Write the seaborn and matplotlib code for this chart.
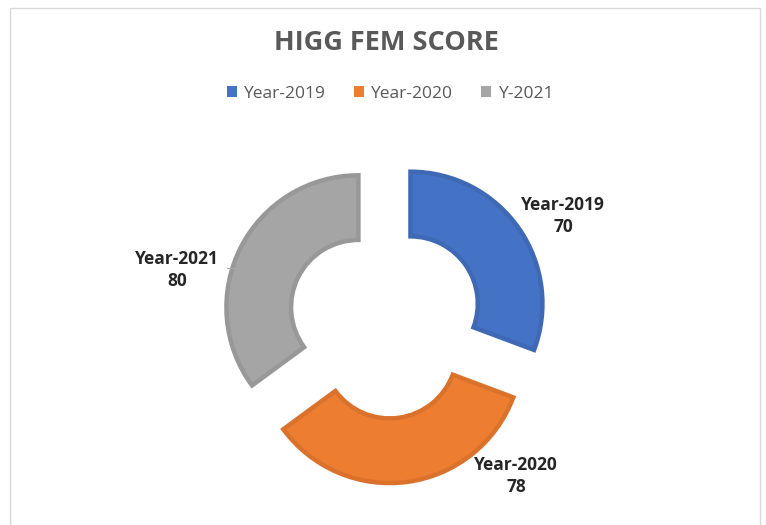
import matplotlib
matplotlib.use("Agg")
import matplotlib.pyplot as plt
import seaborn as sns
from matplotlib.patches import Rectangle

# data
years = ["Year-2019", "Year-2020", "Year-2021"]
legend_names = ["Year-2019", "Year-2020", "Y-2021"]
scores = [70, 78, 80]
fills = ["#4472C4", "#ED7D31", "#A5A5A5"]
edges = ["#3F69B5", "#DA722C", "#989898"]

sns.set_theme(style="white")
plt.rcParams["font.family"] = ["Open Sans", "DejaVu Sans"]

W, H = 766, 525
fig = plt.figure(figsize=(W / 100, H / 100), dpi=100)

# pie axes: 1 data unit = R pixels, centered at (cx, cy) pixels from top-left
R, cx, cy = 132.0, 385.5, 321.0
ax = fig.add_axes([0, 0, 1, 1])

wedges, _ = ax.pie(
    scores,
    colors=fills,
    startangle=90,
    counterclock=False,
    explode=[0.23] * len(scores),
    wedgeprops=dict(width=0.49, linewidth=3.2),
    radius=1.0,
)
for w, ec in zip(wedges, edges):
    w.set_edgecolor(ec)
    w.set_joinstyle("miter")

ax.set_xlim(-cx / R, (W - cx) / R)
ax.set_ylim(-(H - cy) / R, cy / R)
ax.set_aspect("equal")
ax.axis("off")

# data labels (positions in pixels, as laid out in the original)
label_pos = [(563, 216), (516, 476), (177, 270)]
for (px, py), name, val in zip(label_pos, years, scores):
    ax.text((px - cx) / R, (cy - py) / R, f"{name}\n{val}", ha="center", va="center",
            fontsize=12.5, fontweight="bold", color="#262626", linespacing=1.35)

# leader line for the 2021 label
ax.plot([(227 - cx) / R, (242 - cx) / R], [(cy - 268) / R] * 2, color="#A6A6A6", lw=0.8)

# title
fig.text(386 / W, 1 - 43 / H, "HIGG FEM SCORE", ha="center", va="center",
         fontsize=19.5, fontweight="bold", color="#595959")

# legend
handles = [Rectangle((0, 0), 1, 1, facecolor=c, edgecolor="none") for c in fills]
fig.legend(handles, legend_names, loc="center", bbox_to_anchor=(390 / W, 1 - 94 / H),
           ncol=3, frameon=False, fontsize=12.5, handlelength=0.6, handleheight=0.6,
           handletextpad=0.35, columnspacing=1.65, labelcolor="#595959")

# chart frame
fig.patches.append(Rectangle((10 / W, -0.01), 750 / W, 1 - 8 / H + 0.01, transform=fig.transFigure,
                             fill=False, edgecolor="#D9D9D9", linewidth=1.0))

fig.savefig("out.png", dpi=100, facecolor="white")
